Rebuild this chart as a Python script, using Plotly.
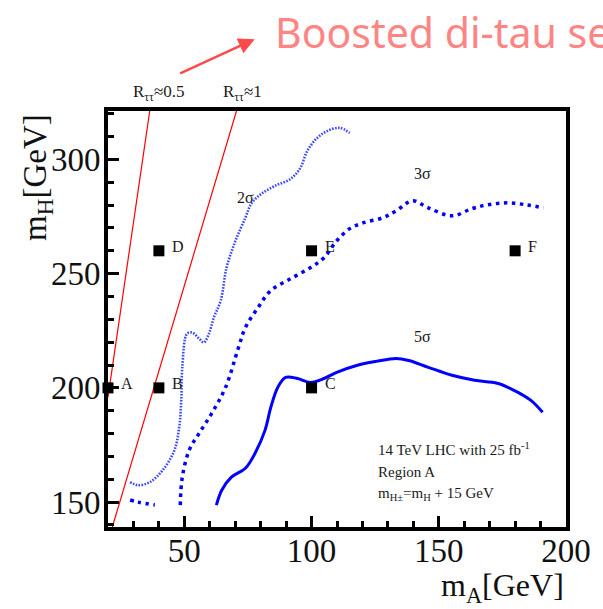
import plotly.graph_objects as go

# ---------------- data ----------------
# 2 sigma contour (fine dotted)
s2_x = [28.7, 31.8, 36.4, 41.5, 46.1, 48.0, 48.8, 49.2, 51.1, 53.1, 55.8, 57.7, 59.7, 61.6,
        64.3, 66.6, 70.1, 74.0, 76.3, 80.2, 85.6, 91.8, 95.6, 98.3, 102.2, 106.1, 111.1, 115.0]
s2_y = [158.7, 157.4, 158.7, 164.0, 172.7, 182.8, 194.5, 209.0, 223.8, 224.2, 221.6, 219.9, 223.8, 230.8,
        238.2, 252.6, 264.4, 274.5, 280.6, 284.9, 288.4, 291.5, 296.3, 303.7, 309.4, 312.4, 313.8, 311.6]

# 3 sigma contour (dotted) - main branch
s3_x = [48.4, 49.2, 51.9, 55.8, 60.8, 66.2, 71.3, 74.0, 79.0, 84.0, 91.8, 99.5, 104.9, 109.9,
        115.0, 120.4, 128.1, 133.2, 139.7, 145.9, 155.2, 162.9, 169.1, 176.9, 184.6, 191.2]
s3_y = [148.7, 160.9, 172.7, 180.1, 188.9, 200.2, 217.7, 226.4, 235.2, 242.6, 247.8, 252.6, 257.0, 264.4,
        269.7, 272.3, 274.5, 277.5, 281.9, 278.8, 275.3, 278.4, 280.1, 281.0, 280.1, 278.8]
# 3 sigma contour - small lower-left branch
s3b_x = [28.7, 31.8, 38.4]
s3b_y = [150.9, 150.0, 148.7]

# 5 sigma contour (solid)
s5_x = [62.6, 64.7, 68.5, 74.0, 77.8, 81.7, 84.0, 86.7, 89.8, 94.5, 99.5, 104.9, 109.9, 117.7,
        125.4, 133.2, 138.2, 145.9, 155.2, 164.1, 173.0, 179.6, 186.2, 190.8]
s5_y = [148.7, 155.2, 160.9, 164.8, 171.4, 181.4, 191.5, 200.2, 204.6, 204.1, 202.4, 204.1, 206.8, 209.8,
        211.6, 212.9, 212.0, 209.0, 205.5, 203.3, 202.0, 198.9, 194.5, 189.3]

# R_tautau reference lines
r05_x = [20.0, 36.4]
r05_y = [195.9, 321.2]
r1_x = [21.7, 70.5]
r1_y = [139.1, 321.2]

# benchmark points
bp_names = ["A", "B", "C", "D", "E", "F"]
bp_x = [20, 40, 100, 40, 100, 180]
bp_y = [200, 200, 200, 260, 260, 260]

x_ticks = [50, 100, 150, 200]
y_ticks = [150, 200, 250, 300]

SERIF = "Liberation Serif"

fig = go.Figure()
fig.add_trace(go.Scatter(x=r05_x, y=r05_y, mode="lines", line=dict(color="#ff0000", width=1.2),
                         showlegend=False, hoverinfo="skip"))
fig.add_trace(go.Scatter(x=r1_x, y=r1_y, mode="lines", line=dict(color="#ff0000", width=1.2),
                         showlegend=False, hoverinfo="skip"))
fig.add_trace(go.Scatter(x=s2_x, y=s2_y, mode="lines", line=dict(color="#3a48ff", width=2.6, dash="1.6px,1.4px", shape="spline"),
                         showlegend=False))
fig.add_trace(go.Scatter(x=s3_x, y=s3_y, mode="lines", line=dict(color="#0000ff", width=3.5, dash="3.5px,4.5px", shape="spline"),
                         showlegend=False))
fig.add_trace(go.Scatter(x=s3b_x, y=s3b_y, mode="lines", line=dict(color="#0000ff", width=3.5, dash="3.5px,4.5px", shape="spline"),
                         showlegend=False))
fig.add_trace(go.Scatter(x=s5_x, y=s5_y, mode="lines", line=dict(color="#0000ff", width=3, shape="spline"),
                         showlegend=False))
fig.add_trace(go.Scatter(x=bp_x, y=bp_y, mode="markers", marker=dict(symbol="square", size=11, color="black"),
                         cliponaxis=False, showlegend=False))

ann = []
for n, x, y in zip(bp_names, bp_x, bp_y):
    ann.append(dict(x=x, y=y, xref="x", yref="y", text=n, showarrow=False, xanchor="left", yanchor="middle",
                    xshift=11, yshift=4, font=dict(family=SERIF, size=16, color="#1a1a1a")))

for t, x, y in [("2σ", 74.0, 283.2), ("3σ", 143.6, 293.7), ("5σ", 143.6, 222.4)]:
    ann.append(dict(x=x, y=y, xref="x", yref="y", text=t, showarrow=False, xanchor="center", yanchor="middle",
                    font=dict(family=SERIF, size=16, color="#1a1a1a")))

# info box
info = ["14 TeV LHC with 25 fb<sup>-1</sup>", "Region A", "m<sub>H±</sub>=m<sub>H</sub> + 15 GeV"]
info_py = [449, 472, 494]
for t, py in zip(info, info_py):
    ann.append(dict(x=(379 - 107) / 465, y=(527 - py) / 417, xref="paper", yref="paper", text=t, showarrow=False,
                    xanchor="left", yanchor="middle", font=dict(family=SERIF, size=15, color="#1a1a1a")))

# R labels above frame
ann.append(dict(x=(160 - 108) / 464, y=(527 - 93) / 416, xref="paper", yref="paper", text="R<sub>ττ</sub>≈0.5",
                showarrow=False, xanchor="center", yanchor="middle", font=dict(family=SERIF, size=17, color="#1a1a1a")))
ann.append(dict(x=(244 - 108) / 464, y=(527 - 93) / 416, xref="paper", yref="paper", text="R<sub>ττ</sub>≈1",
                showarrow=False, xanchor="center", yanchor="middle", font=dict(family=SERIF, size=17, color="#1a1a1a")))

# axis titles
ann.append(dict(x=(36 - 107) / 465, y=(527 - 177) / 417, xref="paper", yref="paper", text="m<sub>H</sub>[GeV]",
                textangle=-90, showarrow=False, xanchor="center", yanchor="middle",
                font=dict(family=SERIF, size=33, color="#111")))
ann.append(dict(x=1.0, y=(527 - 588) / 417, xref="paper", yref="paper", text="m<sub>A</sub>[GeV]",
                showarrow=False, xanchor="right", yanchor="middle", font=dict(family=SERIF, size=32, color="#111")))

# header text and arrow
ann.append(dict(x=(275 - 107) / 465, y=(527 - 31) / 417, xref="paper", yref="paper", text="Boosted di-tau search",
                showarrow=False, xanchor="left", yanchor="middle", font=dict(family="Noto Sans", size=41, color="#ff8585")))
ann.append(dict(x=(256 - 107) / 465, y=(527 - 38) / 417, xref="paper", yref="paper", text="",
                showarrow=True, ax=-76, ay=35, axref="pixel", ayref="pixel",
                arrowhead=2, arrowsize=1.3, arrowwidth=2.5, arrowcolor="#ff4a4a"))

fig.update_layout(
    width=603, height=609,
    margin=dict(l=108, r=31, t=111, b=82),
    paper_bgcolor="white", plot_bgcolor="white",
    annotations=ann,
    xaxis=dict(range=[20, 200], tickvals=x_ticks, ticks="inside", ticklen=11, tickwidth=3, tickcolor="black",
               showline=True, linewidth=4, linecolor="black", mirror=True, showgrid=False, zeroline=False,
               tickfont=dict(family=SERIF, size=33, color="#111"), ticklabelstandoff=-9,
               minor=dict(ticks="inside", ticklen=6, tickwidth=2.5, tickcolor="black", dtick=10, tick0=0, showgrid=False)),
    yaxis=dict(range=[139.1, 321.2], tickvals=y_ticks, ticks="inside", ticklen=11, tickwidth=3, tickcolor="black",
               showline=True, linewidth=4, linecolor="black", mirror=True, showgrid=False, zeroline=False,
               tickfont=dict(family=SERIF, size=33, color="#111"), ticklabelstandoff=-3,
               minor=dict(ticks="inside", ticklen=6, tickwidth=2.5, tickcolor="black", dtick=10, tick0=0, showgrid=False)),
)

fig.write_html("out.html")
